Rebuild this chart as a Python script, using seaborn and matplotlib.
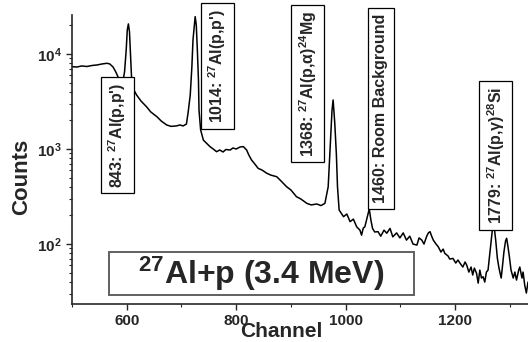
import matplotlib
matplotlib.use("Agg")
import matplotlib.pyplot as plt
from matplotlib.ticker import MultipleLocator
from matplotlib.patches import Rectangle
import seaborn as sns
import pandas as pd

# spectrum (channel, counts)
channel = [500, 509, 518, 527, 537, 546, 555, 564, 569, 575, 580, 585, 588, 591, 593, 596, 599, 601, 603, 605,
           607, 609, 611, 618, 626, 636, 644, 655, 663, 673, 681, 691, 697, 703, 709, 712, 716, 719, 721, 725,
           727, 729, 731, 732, 735, 740, 745, 752, 758, 764, 770, 776, 781, 789, 794, 800, 807, 813, 819, 823,
           828, 834, 840, 847, 856, 863, 874, 882, 892, 900, 910, 918, 929, 937, 947, 955, 962, 968, 973, 975,
           977, 980, 983, 985, 988, 996, 1002, 1008, 1014, 1020, 1026, 1029, 1032, 1035, 1039, 1043, 1046, 1049, 1053, 1059,
           1064, 1070, 1075, 1081, 1086, 1093, 1099, 1105, 1111, 1117, 1123, 1130, 1134, 1139, 1143, 1148, 1151, 1154, 1157, 1160,
           1165, 1169, 1174, 1178, 1181, 1187, 1190, 1196, 1201, 1205, 1209, 1214, 1218, 1221, 1225, 1229, 1232, 1235, 1239, 1242,
           1245, 1248, 1251, 1254, 1257, 1260, 1263, 1266, 1269, 1271, 1274, 1277, 1280, 1284, 1286, 1289, 1292, 1294, 1296, 1299,
           1302, 1306, 1309, 1312, 1316, 1318, 1322, 1324, 1327, 1330, 1333]
counts = [7350, 7290, 7480, 7380, 7570, 7660, 7850, 7980, 7850, 7290, 6470, 5580, 5200, 5070, 5200, 6470, 11000, 17900, 20700, 17100,
          9750, 5320, 4390, 3700, 3200, 2790, 2450, 2190, 1970, 1790, 1730, 1750, 1790, 1750, 1830, 2390, 3700, 7350, 14000, 24700,
          20200, 11000, 5320, 2570, 1585, 1240, 1160, 1060, 1000, 937, 976, 930, 988, 976, 1025, 1000, 1050, 1060, 976, 865,
          766, 695, 626, 601, 555, 532, 511, 460, 401, 370, 315, 298, 268, 258, 264, 254, 268, 401, 1460, 2570,
          3280, 1880, 865, 401, 228, 194, 207, 172, 183, 152, 140, 124, 147, 152, 188, 234, 179, 146, 134, 135,
          121, 140, 130, 146, 119, 131, 116, 131, 110, 121, 100, 97.5, 116, 110, 100, 121, 131, 135, 121, 110,
          100, 93.7, 82.4, 88.5, 79.8, 74.8, 69.5, 70.6, 63.1, 67.9, 62.7, 57.3, 64.7, 60.1, 50.7, 57.3, 47.2, 55.8, 49.2, 38.8,
          53.2, 43.9, 45.3, 39.8, 50.7, 53.2, 76.6, 110, 162, 155, 110, 71.2, 55.8, 43.9, 55.8, 82.4, 108, 115, 97.5, 73.5,
          53.2, 43.9, 50.7, 41.8, 53.2, 57.3, 43.9, 50.7, 37.0, 30.5, 39.8]

# peak labels: text, channel, counts (centre of the box)
peak_labels = ["843: $^{27}$Al(p,p')", "1014: $^{27}$Al(p,p')", "1368: $^{27}$Al(p,α)$^{24}$Mg",
               "1460: Room Background", "1779: $^{27}$Al(p,γ)$^{28}$Si"]
peak_x = [583, 765, 931, 1064, 1274]
peak_y = [1400, 7480, 4890, 2670, 851]

df = pd.DataFrame({"Channel": channel, "Counts": counts})

sns.set_style("ticks")
plt.rcParams['font.family'] = ['Liberation Sans', 'DejaVu Sans']
plt.rcParams['font.weight'] = 'bold'
plt.rcParams['mathtext.fontset'] = 'custom'
plt.rcParams['mathtext.rm'] = 'Liberation Sans:bold'
plt.rcParams['mathtext.bf'] = 'Liberation Sans:bold'
plt.rcParams['mathtext.default'] = 'bf'

fig = plt.figure(figsize=(5.28, 3.42), dpi=100)
ax = fig.add_axes([72/528, 38/342, 456/528, 289/342])

sns.lineplot(data=df, x="Channel", y="Counts", color="black", linewidth=1.1, ax=ax)
ax.set_yscale("log")
ax.set_xlim(500, 1333)
ax.set_ylim(23.4, 25700)

ax.xaxis.set_major_locator(MultipleLocator(200))
ax.xaxis.set_minor_locator(MultipleLocator(100))
ax.tick_params(axis='both', which='major', direction='out', length=4, width=1, labelsize=11)
ax.tick_params(axis='x', which='major', pad=3)
ax.tick_params(axis='both', which='minor', direction='out', length=2.5, width=0.8)
for lbl in ax.get_xticklabels() + ax.get_yticklabels():
    lbl.set_fontweight('bold')

sns.despine(ax=ax)
for s in ["left", "bottom"]:
    ax.spines[s].set_linewidth(1.2)

ax.set_xlabel("Channel", fontsize=15, fontweight='bold')
ax.set_ylabel("Counts", fontsize=16, fontweight='bold')
ax.xaxis.set_label_coords(0.458, -0.062)
ax.yaxis.set_label_coords(-0.088, 0.44)

for t, px, py in zip(peak_labels, peak_x, peak_y):
    ax.text(px, py, t, rotation=90, ha='center', va='center', fontsize=11.5, fontweight='bold',
            bbox=dict(boxstyle='square,pad=0.35', fc='white', ec='black', lw=0.9))

# title box
ax.add_patch(Rectangle((0.081, 0.031), 0.669, 0.149, transform=ax.transAxes,
                       fc='white', ec='#606060', lw=1.4, zorder=3))
ax.text(0.4156, 0.1055, "$^{27}$Al+p (3.4 MeV)", transform=ax.transAxes, ha='center', va='center',
        fontsize=23, fontweight='bold', zorder=4)

fig.savefig("out.png", dpi=100)
